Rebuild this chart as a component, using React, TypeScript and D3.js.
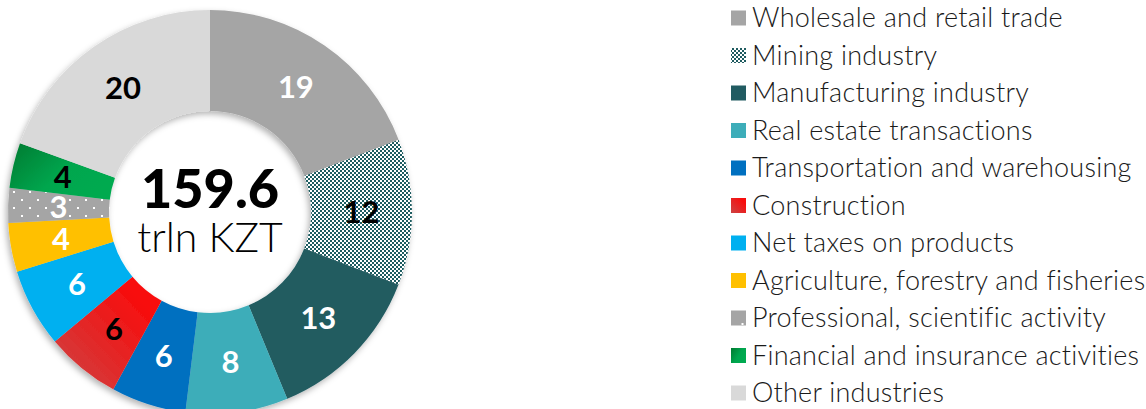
import React from "react";
import * as d3 from "d3";

const categories = [
  "Wholesale and retail trade",
  "Mining industry",
  "Manufacturing industry",
  "Real estate transactions",
  "Transportation and warehousing",
  "Construction",
  "Net taxes on products",
  "Agriculture, forestry and fisheries",
  "Professional, scientific activity",
  "Financial and insurance activities",
  "Other industries",
];
const shares = [19.2, 11.7, 12.9, 8.2, 6.0, 6.0, 6.3, 3.9, 2.8, 3.6, 19.5];
const fills = [
  "#a5a5a5",
  "url(#checker)",
  "#215b61",
  "#3dadb9",
  "#0070c0",
  "url(#redGrad)",
  "#00b0f0",
  "#ffc000",
  "url(#dots)",
  "url(#greenGrad)",
  "#d9d9d9",
];
const labelColors = ["#fff", "#000", "#fff", "#fff", "#fff", "#000", "#fff", "#fff", "#fff", "#000", "#000"];
const totalValue = "159.6";
const totalUnit = "trln KZT";

const W = 1146;
const H = 409;
const cx = 210;
const cy = 212;
const outerR = 202;
const innerR = 101;

export default function App() {
  const pie = d3.pie<number>().sort(null).value((d) => d);
  const arcs = pie(shares);
  const arc = d3.arc<d3.PieArcDatum<number>>().innerRadius(innerR).outerRadius(outerR);
  const legendY = d3.scaleLinear().domain([0, categories.length - 1]).range([18, 393]);
  const font = "Lato, 'Open Sans', 'DejaVu Sans', sans-serif";

  return (
    <svg width={W} height={H} style={{ position: "absolute", left: 0, top: 0 }} fontFamily={font}>
      <defs>
        <pattern id="checker" width="4" height="4" patternUnits="userSpaceOnUse">
          <rect width="4" height="4" fill="#fff" />
          <rect x="0" y="0" width="2" height="2" fill="#1f5b60" />
          <rect x="2" y="2" width="2" height="2" fill="#1f5b60" />
        </pattern>
        <pattern id="dots" width="16" height="16" patternUnits="userSpaceOnUse">
          <rect width="16" height="16" fill="#a5a5a5" />
          <rect x="3" y="3" width="2" height="2" fill="#fff" />
          <rect x="11" y="11" width="2" height="2" fill="#fff" />
        </pattern>
        <pattern id="dotsSmall" width="15" height="15" patternUnits="userSpaceOnUse">
          <rect width="15" height="15" fill="#a5a5a5" />
          <rect x="6.5" y="8" width="2" height="2" fill="#fff" />
        </pattern>
        <linearGradient id="redGrad" x1="1" y1="0" x2="0" y2="1">
          <stop offset="0.2" stopColor="#f80d0d" />
          <stop offset="1" stopColor="#cc4444" />
        </linearGradient>
        <linearGradient id="greenGrad" x1="0" y1="0" x2="1" y2="0.6">
          <stop offset="0" stopColor="#007a30" />
          <stop offset="0.6" stopColor="#00a64e" />
          <stop offset="1" stopColor="#00aa50" />
        </linearGradient>
        <filter id="shadow" x="-10%" y="-10%" width="120%" height="120%">
          <feDropShadow dx="-2" dy="3" stdDeviation="3" floodColor="#000" floodOpacity="0.3" />
        </filter>
      </defs>

      <g transform={`translate(${cx},${cy})`}>
        <g filter="url(#shadow)">
          {arcs.map((a, i) => (
            <path key={i} d={arc(a) || ""} fill={fills[i]} />
          ))}
        </g>
        {arcs.map((a, i) => {
          const [x, y] = arc.centroid(a);
          return (
            <text
              key={"l" + i}
              x={x}
              y={y}
              dy="0.36em"
              textAnchor="middle"
              fontSize={31}
              fontWeight={700}
              fill={labelColors[i]}
            >
              {Math.round(shares[i])}
            </text>
          );
        })}
        <text x={0} y={-4} textAnchor="middle" fontSize={54} fontWeight={900} fill="#000">
          {totalValue}
        </text>
        <text x={0} y={40} textAnchor="middle" fontSize={41} fontWeight={300} fill="#000">
          {totalUnit}
        </text>
      </g>

      <g>
        {categories.map((c, i) => {
          const y = legendY(i);
          const sw = i === 8 ? "url(#dotsSmall)" : fills[i];
          return (
            <g key={"lg" + i}>
              <rect x={731} y={y - 7.5} width={15} height={15} fill={sw} />
              <text
                x={752}
                y={y}
                dy="0.35em"
                fontSize={27}
                fontWeight={300}
                letterSpacing={0.25}
                fill="#1a1a1a"
              >
                {c}
              </text>
            </g>
          );
        })}
      </g>
    </svg>
  );
}
